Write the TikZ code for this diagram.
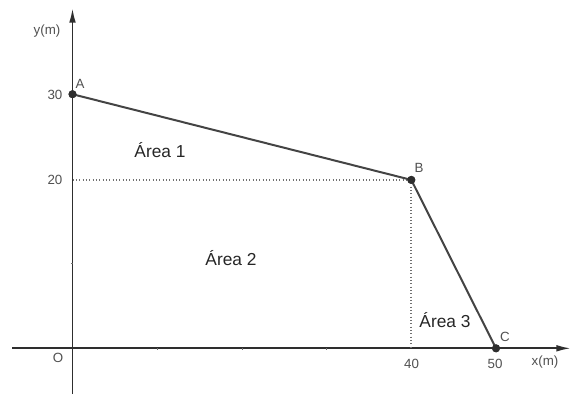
\documentclass[tikz,border=0pt]{standalone}
\usepackage{fontspec}
\setmainfont{Liberation Sans}
\usetikzlibrary{arrows.meta}
\definecolor{axiscol}{HTML}{2E2E2E}
\definecolor{segcol}{HTML}{444444}
\definecolor{lblcol}{HTML}{505050}
\definecolor{dotcol}{HTML}{707070}
\begin{document}
\begin{tikzpicture}[x=0.75pt,y=-0.75pt,
  axisline/.style={draw=axiscol,line width=1.4pt,-{Latex[length=11pt,width=5pt]}},
  segline/.style={draw=segcol,line width=1.5pt},
  guide/.style={draw=dotcol,line width=1.3pt,dash pattern=on 0.9pt off 1.6pt},
  pt/.style={circle,fill=axiscol,inner sep=0pt,minimum size=6pt},
  lbl/.style={text=lblcol,font=\fontsize{10pt}{12pt}\selectfont,inner sep=0pt},
  area/.style={text=black!85,font=\fontsize{13pt}{15pt}\selectfont,inner sep=0pt},
  tick/.style={draw=axiscol!70,line width=0.5pt}]
\useasboundingbox (0,0) rectangle (571,394);
% axis end points
\coordinate (xs) at (12,348.3);
\coordinate (xe) at (571,348.3);
\coordinate (ys) at (72.5,394);
\coordinate (ye) at (72.5,8);
\draw[axisline] (xs) -- (xe);
\draw[axisline] (ys) -- (ye);
% ticks
\coordinate (t1) at (157.2,348.3);
\coordinate (t2) at (241.9,348.3);
\coordinate (t3) at (326.6,348.3);
\coordinate (ty) at (72.5,263.6);
\foreach \t in {t1,t2,t3} \draw[tick] (\t) -- ++(0,2);
\draw[tick] (ty) -- ++(-2,0);
% points
\node[pt] (A) at (72.5,94.2) {};
\node[pt] (B) at (411.3,179.9) {};
\node[pt] (C) at (496,348.3) {};
\coordinate (By) at (72.5,179.9);
\coordinate (Bx) at (411.3,348.3);
% guides
\draw[guide] (By) -- (B.center);
\draw[guide] (B.center) -- (Bx);
% polyline
\draw[segline] (A.center) -- (B.center) -- (C.center);
\node[pt] at (A) {};
\node[pt] at (B) {};
\node[pt] at (C) {};
% labels
\node[lbl] (ylab) at (47,31) {y(m)};
\node[lbl] (xlab) at (545,362) {x(m)};
\node[lbl] (l30) at (55,95) {30};
\node[lbl] (l20) at (55,180) {20};
\node[lbl] (lO) at (58,358) {O};
\node[lbl] (l40) at (411.5,364) {40};
\node[lbl] (l50) at (495,364) {50};
\node[lbl] (lA) at (80,84) {A};
\node[lbl] (lB) at (419,168) {B};
\node[lbl] (lC) at (505,337) {C};
\node[area] (a1) at (160,150) {Área 1};
\node[area] (a2) at (231,258) {Área 2};
\node[area] (a3) at (445,320) {Área 3};
\end{tikzpicture}
\end{document}
